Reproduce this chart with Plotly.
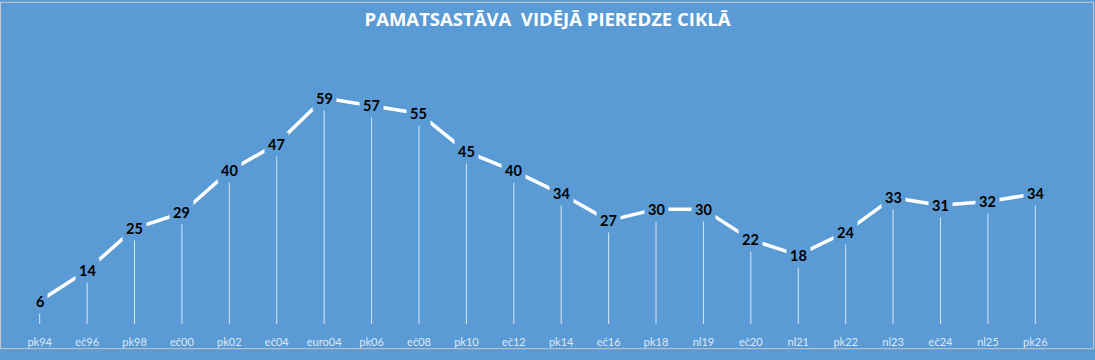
import plotly.graph_objects as go

categories = ["pk94", "eč96", "pk98", "eč00", "pk02", "eč04", "euro04", "pk06", "eč08", "pk10",
              "eč12", "pk14", "eč16", "pk18", "nl19", "eč20", "nl21", "pk22", "nl23", "eč24", "nl25", "pk26"]
values = [6, 14, 25, 29, 40, 47, 59, 57, 55, 45, 40, 34, 27, 30, 30, 22, 18, 24, 33, 31, 32, 34]

BG = "#5B9BD5"
W, H = 1095, 360
L, R, T, B = 16, 36, 56, 27
PW, PH = W - L - R, H - T - B

fig = go.Figure()

# drop lines
dx, dy = [], []
for c, v in zip(categories, values):
    dx += [c, c, None]
    dy += [0, v, None]
fig.add_trace(go.Scatter(x=dx, y=dy, mode="lines",
                         line=dict(color="rgba(255,255,255,0.75)", width=1),
                         hoverinfo="skip", showlegend=False))

# main line
fig.add_trace(go.Scatter(x=categories, y=values, mode="lines",
                         line=dict(color="white", width=3.5),
                         showlegend=False))

for c, v in zip(categories, values):
    fig.add_annotation(x=c, y=v, text=f"<b>{v}</b>", showarrow=False,
                       font=dict(family="Lato", size=14.5, color="black"),
                       bgcolor=BG, borderpad=3)

fig.update_layout(
    width=W, height=H,
    paper_bgcolor=BG, plot_bgcolor=BG,
    margin=dict(l=L, r=R, t=T, b=B),
    title=dict(text="<b>PAMATSASTĀVA  VIDĒJĀ PIEREDZE CIKLĀ</b>", x=0.5, xanchor="center",
               y=1 - 20 / H, yanchor="middle",
               font=dict(family="Open Sans", size=18.5, color="white")),
    xaxis=dict(type="category", range=[-0.5, len(categories) - 0.5], showgrid=False,
               zeroline=False, showline=False, ticks="",
               tickfont=dict(family="Lato", size=11, color="#dde9f6"),
               ticklabelstandoff=10, fixedrange=True),
    yaxis=dict(range=[0, 70], visible=False, fixedrange=True),
    shapes=[dict(type="rect", xref="paper", yref="paper",
                 x0=-(L - 0.5) / PW, x1=1 + (R - 1.5) / PW,
                 y0=-(B - 1.5) / PH, y1=1 + (T - 0.5) / PH,
                 line=dict(color="#c8c8c8", width=1))],
)

fig.write_html("out.html", config={"displayModeBar": False},
               post_script="document.body.style.margin='0';document.body.style.overflow='hidden';")
